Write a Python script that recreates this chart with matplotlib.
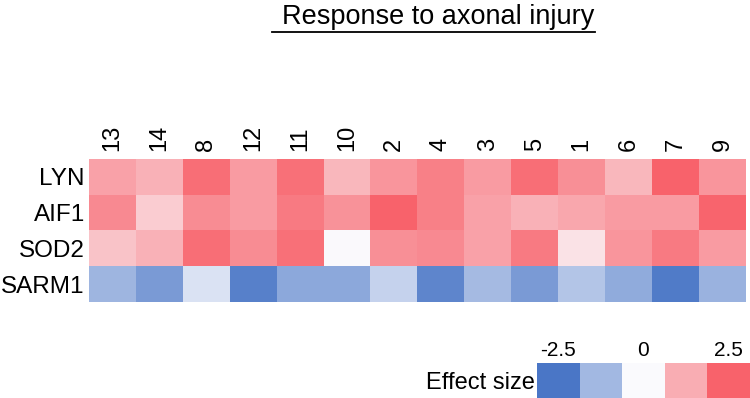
import matplotlib
matplotlib.use("Agg")
import matplotlib.pyplot as plt
import numpy as np
from matplotlib.colors import LinearSegmentedColormap
from matplotlib.lines import Line2D

plt.rcParams['font.family'] = ['Liberation Sans', 'DejaVu Sans']

clusters = ["13", "14", "8", "12", "11", "10", "2", "4", "3", "5", "1", "6", "7", "9"]
genes = ["LYN", "AIF1", "SOD2", "SARM1"]
lyn = [1.45, 1.2, 2.3, 1.55, 2.25, 1.1, 1.65, 2.0, 1.55, 2.3, 1.75, 1.1, 2.5, 1.65]
aif1 = [1.85, 0.75, 1.8, 1.55, 2.1, 1.7, 2.5, 2.0, 1.45, 1.2, 1.35, 1.55, 1.55, 2.45]
sod2 = [0.9, 1.2, 2.3, 1.8, 2.25, 0.02, 1.75, 1.85, 1.45, 2.1, 0.4, 1.65, 2.1, 1.55]
sarm1 = [-1.3, -1.8, -0.45, -2.3, -1.55, -1.55, -0.75, -2.2, -1.2, -1.8, -1.0, -1.5, -2.4, -1.35]
legend_values = [-2.5, -1.25, 0, 1.25, 2.5]
legend_labels = ["-2.5", "0", "2.5"]

data = np.array([lyn, aif1, sod2, sarm1])
cmap = LinearSegmentedColormap.from_list("eff", ["#4a76c6", "#fbfbfe", "#f8626b"])

fig = plt.figure(figsize=(7.5, 3.98), dpi=100)
ax = fig.add_axes([89/750, 1-302/398, 657/750, 143/398])
ax.imshow(data, cmap=cmap, vmin=-2.5, vmax=2.5, aspect='auto')
ax.set_xticks(range(len(clusters)))
ax.set_xticklabels(clusters, rotation=90, fontsize=17)
ax.set_yticks(range(len(genes)))
ax.set_yticklabels(genes, fontsize=17.5)
ax.xaxis.tick_top()
ax.tick_params(axis='x', length=0, pad=6)
ax.tick_params(axis='y', length=0, pad=3)
for s in ax.spines.values():
    s.set_visible(False)

t = fig.text(438/750, 1-17/398, "Response to axonal injury", fontsize=19.5,
             ha='center', va='center')
fig.canvas.draw()
bb = t.get_window_extent()
y_ul = (bb.y0 - 2) / fig.bbox.height
fig.add_artist(Line2D([(bb.x0 - 10) / fig.bbox.width, (bb.x1 + 1) / fig.bbox.width], [y_ul, y_ul],
                      color='black', lw=1.3, transform=fig.transFigure))

lax = fig.add_axes([537/750, 0, 213/750, 35/398])
lax.imshow(np.array([legend_values]), cmap=cmap, vmin=-2.5, vmax=2.5, aspect='auto')
lax.set_xticks([0, 2, 4])
lax.set_xticklabels(legend_labels, fontsize=15)
lax.xaxis.tick_top()
lax.set_yticks([])
lax.tick_params(length=0, pad=2)
for s in lax.spines.values():
    s.set_visible(False)
fig.text(535/750, 1-383/398, "Effect size", fontsize=17, ha='right', va='center')

fig.savefig("out.png", dpi=100)
